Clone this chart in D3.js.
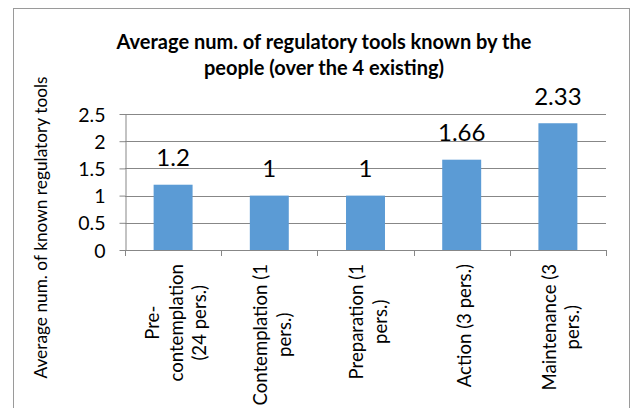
<!DOCTYPE html>
<html><head><meta charset="utf-8">
<script src="https://cdn.jsdelivr.net/npm/d3@7"></script>
<style>body{margin:0;background:#fff} svg{display:block}</style>
</head><body>
<script>
const titleLines = ["Average num. of regulatory tools known by the", "people (over the 4 existing)"];
const yAxisTitle = "Average num. of known regulatory tools";
const categories = ["Pre-\ncontemplation\n(24 pers.)", "Contemplation (1\npers.)", "Preparation (1\npers.)", "Action (3 pers.)", "Maintenance (3\npers.)"];
const values = [1.2, 1, 1, 1.66, 2.33];
const valueLabels = ["1.2", "1", "1", "1.66", "2.33"];
const yTicks = [0, 0.5, 1, 1.5, 2, 2.5];
const yTickLabels = ["0", "0.5", "1", "1.5", "2", "2.5"];

const W = 635, H = 408;
const FONT = "Lato, 'Open Sans', sans-serif";
const GRID = "#878787";
const BAR = "#5B9BD5";

const svg = d3.select("body").append("svg").attr("width", W).attr("height", H);

// chart frame
svg.append("rect").attr("x", 13.5).attr("y", 8.5).attr("width", 616).attr("height", 420)
  .attr("fill", "#fff").attr("stroke", "#9a9a9a").attr("stroke-width", 1);

const x = d3.scaleBand().domain(categories).range([125, 606]).paddingInner(0.595).paddingOuter(0.2975);
const y = d3.scaleLinear().domain([0, 2.5]).range([250, 114]);
const step = x.step();

// gridlines
svg.append("g").selectAll("line").data(yTicks.filter(d => d > 0)).join("line")
  .attr("x1", 125).attr("x2", 606)
  .attr("y1", d => Math.round(y(d)) + 0.5).attr("y2", d => Math.round(y(d)) + 0.5)
  .attr("stroke", GRID).attr("stroke-width", 1);

// y axis
const yAxis = svg.append("g").attr("transform", "translate(125.5,0)")
  .call(d3.axisLeft(y).tickValues(yTicks).tickFormat((d, i) => yTickLabels[i]).tickSize(6).tickSizeOuter(0).tickPadding(14));
yAxis.select(".domain").attr("stroke", GRID);
yAxis.selectAll(".tick line").attr("stroke", GRID);
yAxis.selectAll(".tick text").attr("font-family", FONT).attr("font-size", 19.5).attr("fill", "#000").attr("dy", "0.36em");

// bars
svg.append("g").selectAll("rect").data(values).join("rect")
  .attr("x", (d, i) => x(categories[i]))
  .attr("width", x.bandwidth())
  .attr("y", d => y(d))
  .attr("height", d => y(0) - y(d))
  .attr("fill", BAR);

// x axis
const xa = svg.append("g");
xa.append("line").attr("x1", 125).attr("x2", 606).attr("y1", 250.5).attr("y2", 250.5).attr("stroke", GRID);
xa.selectAll("line.t").data(d3.range(categories.length + 1)).join("line").attr("class", "t")
  .attr("x1", i => Math.round(125 + i * step) + 0.5).attr("x2", i => Math.round(125 + i * step) + 0.5)
  .attr("y1", 250).attr("y2", 256).attr("stroke", GRID);

// value labels
svg.append("g").selectAll("text").data(values).join("text")
  .attr("x", (d, i) => x(categories[i]) + x.bandwidth() / 2)
  .attr("y", d => y(d) - 18.5)
  .attr("text-anchor", "middle").attr("font-family", FONT).attr("font-size", 24).attr("fill", "#000")
  .text((d, i) => valueLabels[i]);

// category labels (rotated, wrapped)
const catFs = 18.6, lh = 23.5, topY = 264;
categories.forEach((c, ci) => {
  const lines = c.split("\n");
  const g = svg.append("g").attr("transform", `translate(${x(c) + x.bandwidth() / 2},${topY}) rotate(-90)`);
  const texts = g.selectAll("text").data(lines).join("text")
    .attr("font-family", FONT).attr("font-size", catFs).attr("fill", "#000")
    .attr("text-anchor", "middle")
    .attr("y", (d, i) => (i - (lines.length - 1) / 2) * lh + 0.35 * catFs + 3)
    .text(d => d);
  let L = 0;
  texts.each(function () { L = Math.max(L, this.getComputedTextLength()); });
  texts.attr("x", -L / 2);
});

// y axis title
svg.append("text").attr("transform", "translate(47,227.5) rotate(-90)")
  .attr("text-anchor", "middle").attr("font-family", FONT).attr("font-size", 17.3).attr("fill", "#000")
  .text(yAxisTitle);

// chart title
svg.append("g").selectAll("text").data(titleLines).join("text")
  .attr("x", 324).attr("y", (d, i) => 49 + i * 26)
  .attr("text-anchor", "middle").attr("font-family", FONT).attr("font-weight", "bold")
  .attr("font-size", 20).attr("fill", "#000")
  .text(d => d);
</script>
</body></html>
